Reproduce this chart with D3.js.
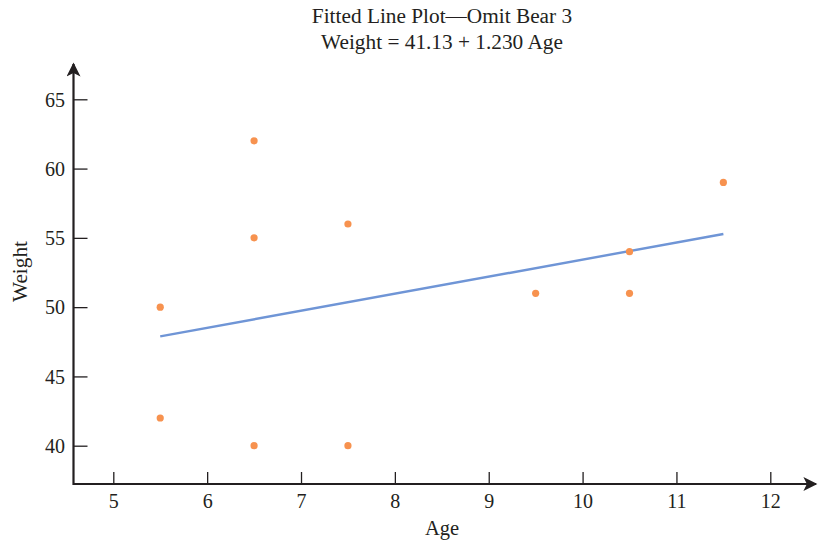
<!DOCTYPE html>
<html><head><meta charset="utf-8">
<script src="https://cdn.jsdelivr.net/npm/d3@7/dist/d3.min.js"></script>
<style>body{margin:0;background:#fff}svg{display:block}</style>
</head><body><svg id="c" width="820" height="541"></svg>
<script>
const ages = [5.5, 5.5, 6.5, 6.5, 6.5, 7.5, 7.5, 9.5, 10.5, 10.5, 11.5];
const weights = [50, 42, 62, 55, 40, 56, 40, 51, 54, 51, 59];
const xTicks = [5, 6, 7, 8, 9, 10, 11, 12];
const yTicks = [40, 45, 50, 55, 60, 65];
const intercept = 41.13, slope = 1.230;
const fitRange = [5.5, 11.5];
const titleLines = ["Fitted Line Plot\u2014Omit Bear 3", "Weight = 41.13 + 1.230 Age"];

const svg = d3.select("#c");
const font = "'Liberation Serif', 'Times New Roman', serif";
const ink = "#231f20";
const x = d3.scaleLinear().domain([5, 12]).range([113.3, 770.3]);
const y = d3.scaleLinear().domain([40, 65]).range([445.7, 99.3]);
const x0 = 73.5, y0 = 484;

svg.append("defs").append("marker").attr("id","arr").attr("viewBox","0 0 10 10")
  .attr("refX",9).attr("refY",5).attr("markerWidth",18).attr("markerHeight",14)
  .attr("markerUnits","userSpaceOnUse").attr("orient","auto")
  .append("path").attr("d","M0,0 L10,5 L0,10 L2.5,5 Z").attr("fill",ink);

svg.append("line").attr("x1",x0).attr("y1",y0).attr("x2",816).attr("y2",y0)
  .attr("stroke",ink).attr("stroke-width",2.2).attr("marker-end","url(#arr)");
svg.append("line").attr("x1",x0).attr("y1",y0+1).attr("x2",x0).attr("y2",64)
  .attr("stroke",ink).attr("stroke-width",2.2).attr("marker-end","url(#arr)");

// x ticks
const xAxis = d3.axisTop(x).tickValues(xTicks).tickSize(12).tickFormat(d3.format("d"));
const gx = svg.append("g").attr("transform",`translate(0,${y0})`).call(xAxis);
gx.select(".domain").remove();
gx.selectAll("line").attr("stroke",ink).attr("stroke-width",1.3);
gx.selectAll("text").attr("y",23.5).attr("dy","0").attr("font-family",font).attr("font-size",20)
  .attr("fill",ink);

// y ticks
const yAxis = d3.axisRight(y).tickValues(yTicks).tickSize(14).tickFormat(d3.format("d"));
const gy = svg.append("g").attr("transform",`translate(${x0},0)`).call(yAxis);
gy.select(".domain").remove();
gy.selectAll("line").attr("stroke",ink).attr("stroke-width",1.3);
gy.selectAll("text").attr("x",-8.5).attr("text-anchor","end").attr("dy","0.34em")
  .attr("font-family",font).attr("font-size",20).attr("fill",ink);

// fitted line
svg.append("line")
  .attr("x1",x(fitRange[0])).attr("y1",y(intercept+slope*fitRange[0]))
  .attr("x2",x(fitRange[1])).attr("y2",y(intercept+slope*fitRange[1]))
  .attr("stroke","#6f95d6").attr("stroke-width",2.4);

// points
svg.append("g").selectAll("circle").data(ages.map((a,i)=>[a,weights[i]])).join("circle")
  .attr("cx",d=>x(d[0])).attr("cy",d=>y(d[1])).attr("r",3.6).attr("fill","#f7924f");

// titles
svg.append("g").selectAll("text").data(titleLines).join("text")
  .attr("x",442).attr("y",(d,i)=>23+i*25.5).attr("text-anchor","middle")
  .attr("font-family",font).attr("font-size",21.3).attr("fill",ink).text(d=>d);

svg.append("text").attr("x",442).attr("y",535).attr("text-anchor","middle")
  .attr("font-family",font).attr("font-size",20.5).attr("fill",ink).text("Age");
svg.append("text").attr("transform","translate(27,271.5) rotate(-90)").attr("text-anchor","middle")
  .attr("font-family",font).attr("font-size",21.3).attr("fill",ink).text("Weight");
</script></body></html>
